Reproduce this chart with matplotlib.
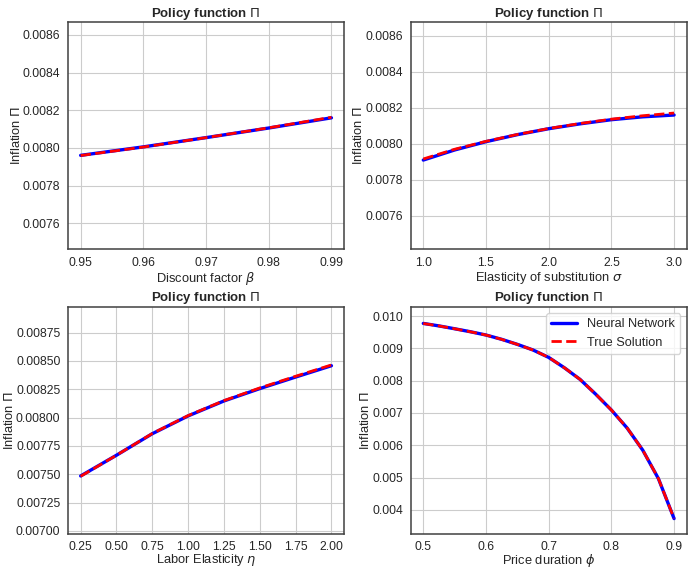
import numpy as np
import matplotlib
matplotlib.use('Agg')
import matplotlib.pyplot as plt
from matplotlib.ticker import MultipleLocator
import seaborn as sns

sns.set_style('whitegrid')
plt.rcParams['font.family'] = ['Liberation Sans', 'DejaVu Sans']
plt.rcParams['mathtext.fontset'] = 'dejavusans'

# discount factor beta
beta = [0.95, 0.96, 0.97, 0.98, 0.99]
pi_beta_nn = [0.007961, 0.008006, 0.008055, 0.008106, 0.008160]
pi_beta_true = [0.007960, 0.008005, 0.008055, 0.008107, 0.008163]

# elasticity of substitution sigma
sigma = [1.0, 1.25, 1.5, 1.75, 2.0, 2.25, 2.5, 2.75, 3.0]
pi_sigma_nn = [0.007909, 0.007965, 0.008011, 0.008050, 0.008083, 0.008110, 0.008133, 0.008149, 0.008159]
pi_sigma_true = [0.007915, 0.007969, 0.008013, 0.008051, 0.008084, 0.008112, 0.008136, 0.008155, 0.008170]

# labor elasticity eta
eta = [0.25, 0.5, 0.75, 1.0, 1.25, 1.5, 1.75, 2.0]
pi_eta_nn = [0.007485, 0.007668, 0.007858, 0.008015, 0.008147, 0.008256, 0.008358, 0.008458]
pi_eta_true = [0.007482, 0.007668, 0.007860, 0.008018, 0.008150, 0.008262, 0.008365, 0.008465]

# price duration phi
phi = [0.5, 0.525, 0.55, 0.575, 0.6, 0.625, 0.65, 0.675, 0.7, 0.725, 0.75,
       0.775, 0.8, 0.825, 0.85, 0.875, 0.9]
pi_phi_nn = [0.009772, 0.009695, 0.009607, 0.009515, 0.009413, 0.009280, 0.009124, 0.008950, 0.008720,
             0.008400, 0.008040, 0.007582, 0.007092, 0.006537, 0.005850, 0.004969, 0.003732]
pi_phi_true = [0.009770, 0.009694, 0.009606, 0.009514, 0.009412, 0.009279, 0.009123, 0.008949, 0.008720,
               0.008400, 0.008040, 0.007583, 0.007093, 0.006538, 0.005851, 0.004970, 0.003733]

panels = [
    (beta, pi_beta_nn, pi_beta_true, r'Discount factor $\beta$', (0.007464, 0.008667)),
    (sigma, pi_sigma_nn, pi_sigma_true, r'Elasticity of substitution $\sigma$', (0.007415, 0.008674)),
    (eta, pi_eta_nn, pi_eta_true, r'Labor Elasticity $\eta$', (0.006977, 0.008979)),
    (phi, pi_phi_nn, pi_phi_true, r'Price duration $\phi$', (0.00327, 0.01029)),
]

fig, axes = plt.subplots(2, 2, figsize=(6.88, 5.7), dpi=100)
plt.subplots_adjust(left=0.099, right=0.998, top=0.961, bottom=0.064, wspace=0.242, hspace=0.254)

for i, (x, nn, true, xlab, ylim) in enumerate(panels):
    ax = axes.flat[i]
    ax.plot(x, nn, color='blue', lw=2.4, label='Neural Network')
    ax.plot(x, true, color='red', lw=2.0, ls='--', label='True Solution')
    ax.set_ylim(ylim)
    ax.set_title(r'Policy function $\Pi$', fontsize=9.5, fontweight='bold', pad=4)
    ax.set_xlabel(xlab, fontsize=9.3, labelpad=1 if i < 2 else -0.5)
    ax.set_ylabel(r'Inflation $\Pi$', fontsize=9.3, labelpad=0)
    ax.tick_params(labelsize=8.7, pad=2)
    for s in ax.spines.values():
        s.set_edgecolor('0.25')
        s.set_linewidth(1.1)
    if i == 2:
        ax.xaxis.set_major_locator(MultipleLocator(0.25))
    if i == 3:
        ax.legend(loc='upper right', fontsize=9.2, frameon=True, framealpha=0.8)

fig.savefig('out.png', dpi=100)
